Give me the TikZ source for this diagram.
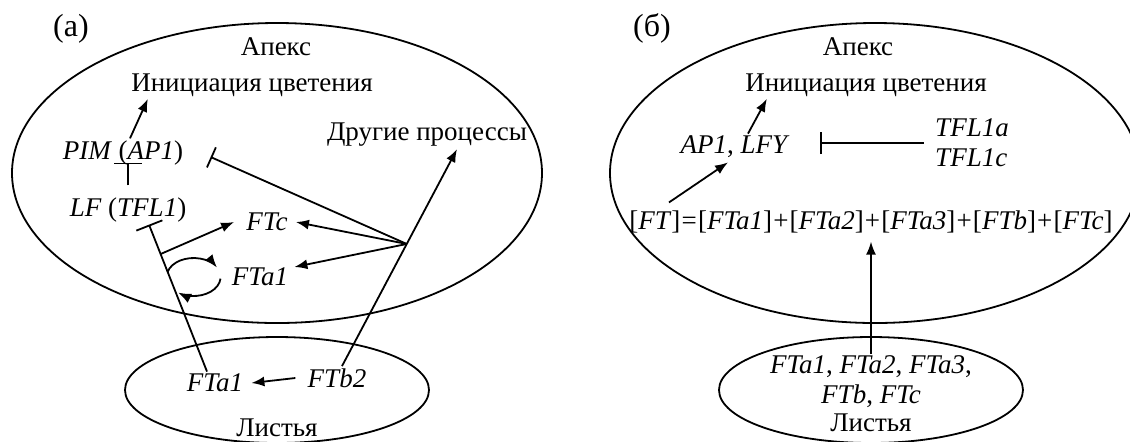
\documentclass[tikz,border=0pt]{standalone}
\usepackage{fontspec}
\setmainfont{Liberation Serif}
\usepackage{tikz}
\usetikzlibrary{arrows.meta, shapes.geometric}

\tikzset{
  txt/.style={inner sep=1pt},
  tag/.style={inner sep=1pt, font=\fontsize{16pt}{18pt}\selectfont},
  act/.style={-{Latex[length=6.5pt, width=5pt]}, line width=0.9pt},
  inh/.style={-{Bar[width=14pt]}, line width=0.9pt},
  region/.style={draw, ellipse, line width=0.9pt, inner sep=0pt}
}

\begin{document}
\begin{tikzpicture}[x=0.5pt, y=-0.5pt, font=\fontsize{13.5pt}{15pt}\selectfont]
      \useasboundingbox (0, 0) rectangle (1130, 441);

      \node[region, minimum width=265pt, minimum height=150pt] (apexEllA) at (277, 173) {};
      \node[region, minimum width=152pt, minimum height=53pt] (leafEllA) at (277, 390) {};
      \node[region, minimum width=265pt, minimum height=150pt] (apexEllB) at (875, 173) {};
      \node[region, minimum width=152pt, minimum height=53pt] (leafEllB) at (871, 390) {};

      \node[tag] (labA) at (71, 29) {(а)};
      \node[txt] (apexA) at (276, 47) {Апекс};
      \node[txt] (iniA) at (252, 85) {Инициация цветения};
      \node[txt] (otherA) at (427, 135) {Другие процессы};
      \node[txt] (pimA) at (123, 153) {\textit{PIM} (\textit{AP1})};
      \node[txt] (lfA) at (128, 210) {\textit{LF} (\textit{TFL1})};
      \node[txt] (ftcA) at (267, 222) {\textit{FTc}};
      \node[txt] (fta1A) at (260, 277) {\textit{FTa1}};
      \node[txt] (leafFta1A) at (215, 383) {\textit{FTa1}};
      \node[txt] (ftb2A) at (337, 378) {\textit{FTb2}};
      \node[txt] (leavesA) at (277, 428) {Листья};
      \coordinate (cycA) at ([xshift=-18pt]fta1A.west);

      \draw ([xshift=3.5pt]pimA.north) edge[act] ([xshift=9.5pt]iniA.south west);
      \draw ([yshift=5pt]lfA.north) edge[inh] ([yshift=2.5pt]lfA.north |- pimA.south);
      \draw[act] ([xshift=2.5pt]ftb2A.north) -- coordinate[pos=0.563] (hubA) ([xshift=15pt]otherA.south);
      \draw (hubA) edge[inh, -{Bar[width=11pt]}] ([xshift=12.5pt, yshift=-2pt]pimA.east);
      \draw (hubA) edge[act] ([xshift=3pt]ftcA.east);
      \draw (hubA) edge[act] ([xshift=2pt, yshift=5pt]fta1A.east);
      \draw[inh] ([xshift=-4pt]leafFta1A.north) -- coordinate[pos=0.8] (brA) ([xshift=10.5pt]lfA.south);
      \draw (brA) edge[act] ([xshift=-5pt]ftcA.west);
      \draw[act] ([shift={(165:13.5pt and 9.5pt)}]cycA) arc[start angle=165, end angle=30, x radius=13.5pt, y radius=9.5pt];
      \draw[act] ([shift={(-5:13.5pt and 9.5pt)}]cycA) arc[start angle=-5, end angle=-125, x radius=13.5pt, y radius=9.5pt];
      \draw ([xshift=-5pt]ftb2A.west) edge[act] ([xshift=3pt]leafFta1A.east);

      \node[tag] (labB) at (652, 28) {(б)};
      \node[txt] (apexB) at (858, 47) {Апекс};
      \node[txt] (iniB) at (866, 85) {Инициация цветения};
      \node[txt] (apLfyB) at (735, 147) {\textit{AP1}, \textit{LFY}};
      \node[txt, align=left] (tflB) at (972, 143) {\textit{TFL1a}\\\textit{TFL1c}};
      \node[txt] (eqB) at (871, 222) {[\textit{FT}]\hspace{0.6pt}=\hspace{0.6pt}[\textit{FTa1}]\hspace{0.6pt}+\hspace{0.6pt}[\textit{FTa2}]\hspace{0.6pt}+\hspace{0.6pt}[\textit{FTa3}]\hspace{0.6pt}+\hspace{0.6pt}[\textit{FTb}]\hspace{0.6pt}+\hspace{0.6pt}[\textit{FTc}]};
      \node[txt, align=center] (leafTxtB) at (871, 382) {\textit{FTa1}, \textit{FTa2}, \textit{FTa3},\\\textit{FTb}, \textit{FTc}};
      \node[txt] (leavesB) at (871, 423) {Листья};

      \draw ([xshift=6.5pt]apLfyB.north) edge[act] ([xshift=12pt]iniB.south west);
      \draw ([xshift=-4.5pt]tflB.west) edge[inh, -{Bar[width=11pt]}] ([xshift=14pt]apLfyB.east |- tflB.west);
      \draw ([xshift=21pt, yshift=3pt]eqB.north west) edge[act] ([xshift=-3.5pt, yshift=-1pt]apLfyB.south);
      \draw (leafTxtB.north) edge[act] ([yshift=-3pt]leafTxtB.north |- eqB.south);

    \end{tikzpicture}
\end{document}
